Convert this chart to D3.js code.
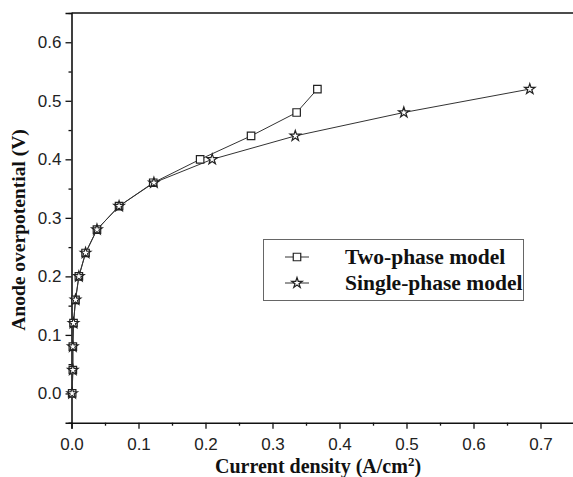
<!DOCTYPE html>
<html>
<head>
<meta charset="utf-8">
<script src="https://cdn.jsdelivr.net/npm/d3@7"></script>
<style>
  body { margin: 0; background: #fff; }
</style>
</head>
<body>
<script>
var w = 573;
var h = 477;

// data
var twoPhaseX = [0.001, 0.002, 0.002, 0.003, 0.006, 0.011, 0.021, 0.038, 0.071, 0.122, 0.192, 0.268, 0.336, 0.367];
var twoPhaseY = [0.00, 0.04, 0.08, 0.12, 0.16, 0.20, 0.24, 0.28, 0.32, 0.36, 0.40, 0.44, 0.48, 0.52];
var singlePhaseX = [0.001, 0.002, 0.002, 0.003, 0.006, 0.011, 0.021, 0.038, 0.071, 0.123, 0.210, 0.334, 0.496, 0.684];
var singlePhaseY = [0.00, 0.04, 0.08, 0.12, 0.16, 0.20, 0.24, 0.28, 0.32, 0.36, 0.40, 0.44, 0.48, 0.52];
var seriesNames = ["Two-phase model", "Single-phase model"];
var xTicks = [0, 0.1, 0.2, 0.3, 0.4, 0.5, 0.6, 0.7];
var yTicks = [0, 0.1, 0.2, 0.3, 0.4, 0.5, 0.6];

var x = d3.scaleLinear().domain([0, 0.75]).range([71.5, 574]);
var y = d3.scaleLinear().domain([-0.05, 0.65]).range([422.7, 13]);

var svg = d3.select("body").append("svg").attr("width", w).attr("height", h);

var tickFont = "'Liberation Sans', Arial, sans-serif";
var labelFont = "'Liberation Serif', 'Times New Roman', serif";

// minor ticks
var xMinor = d3.range(0.05, 0.76, 0.1);
var yMinor = d3.range(-0.05, 0.66, 0.1);

svg.append("g").attr("transform", "translate(0," + y(-0.05) + ")")
    .call(d3.axisBottom(x).tickValues(xTicks).tickFormat(d3.format(".1f")).tickSize(6).tickPadding(9));
svg.append("g").attr("transform", "translate(0," + y(-0.05) + ")")
    .call(d3.axisBottom(x).tickValues(xMinor).tickFormat("").tickSize(3))
    .select(".domain").remove();

svg.append("g").attr("transform", "translate(" + x(0) + ",0)")
    .call(d3.axisLeft(y).tickValues(yTicks).tickFormat(d3.format(".1f")).tickSize(6).tickPadding(4));
svg.append("g").attr("transform", "translate(" + x(0) + ",0)")
    .call(d3.axisLeft(y).tickValues(yMinor).tickFormat("").tickSize(3))
    .select(".domain").remove();

svg.selectAll(".domain").attr("stroke", "#111").attr("stroke-width", 1.6);
svg.selectAll(".tick line").attr("stroke", "#111").attr("stroke-width", 1.3);
svg.selectAll(".tick text")
    .style("font-family", tickFont)
    .style("font-size", "17px")
    .attr("fill", "#222");

// top frame
svg.append("line")
    .attr("x1", x(0)).attr("x2", x(0.75))
    .attr("y1", y(0.65)).attr("y2", y(0.65))
    .attr("stroke", "#111").attr("stroke-width", 1.6);

// series
var twoPhase = twoPhaseX.map(function (d, i) { return [d, twoPhaseY[i]]; });
var singlePhase = singlePhaseX.map(function (d, i) { return [d, singlePhaseY[i]]; });

var line = d3.line()
    .x(function (d) { return x(d[0]); })
    .y(function (d) { return y(d[1]); });

var series = [
    { name: seriesNames[0], values: twoPhase, symbol: d3.symbolSquare, size: 56 },
    { name: seriesNames[1], values: singlePhase, symbol: d3.symbolStar, size: 34 }
];

series.forEach(function (s) {
    svg.append("path")
        .datum(s.values)
        .attr("d", line)
        .attr("fill", "none")
        .attr("stroke", "#333")
        .attr("stroke-width", 1);
});

series.forEach(function (s) {
    svg.selectAll(null)
        .data(s.values)
        .enter()
        .append("path")
        .attr("transform", function (d) { return "translate(" + x(d[0]) + "," + y(d[1]) + ")"; })
        .attr("d", d3.symbol().type(s.symbol).size(s.size))
        .attr("fill", "#fff")
        .attr("stroke", "#222")
        .attr("stroke-width", 1.2);
});

// legend
var legend = svg.append("g");
legend.append("rect")
    .attr("x", 263.5).attr("y", 239.5)
    .attr("width", 260).attr("height", 61)
    .attr("fill", "#fff")
    .attr("stroke", "#666")
    .attr("stroke-width", 1);

series.forEach(function (s, i) {
    var ly = 257 + i * 26;
    legend.append("line")
        .attr("x1", 285).attr("x2", 309)
        .attr("y1", ly).attr("y2", ly)
        .attr("stroke", "#333").attr("stroke-width", 1);
    legend.append("path")
        .attr("transform", "translate(297," + ly + ")")
        .attr("d", d3.symbol().type(s.symbol).size(s.size))
        .attr("fill", "#fff")
        .attr("stroke", "#222")
        .attr("stroke-width", 1.2);
    legend.append("text")
        .attr("x", 345).attr("y", ly + 7)
        .style("font-family", labelFont)
        .style("font-weight", "bold")
        .style("font-size", "21.5px")
        .attr("fill", "#111")
        .text(s.name);
});

// axis titles
var xt = svg.append("text")
    .attr("x", 318).attr("y", 473)
    .attr("text-anchor", "middle")
    .style("font-family", labelFont)
    .style("font-weight", "bold")
    .style("font-size", "20px")
    .attr("fill", "#111");
xt.append("tspan").text("Current density (A/cm");
xt.append("tspan").attr("dy", -7).style("font-size", "13px").text("2");
xt.append("tspan").attr("dy", 7).text(")");

svg.append("text")
    .attr("transform", "translate(25,230) rotate(-90)")
    .attr("text-anchor", "middle")
    .style("font-family", labelFont)
    .style("font-weight", "bold")
    .style("font-size", "19.5px")
    .attr("fill", "#111")
    .text("Anode overpotential (V)");
</script>
</body>
</html>
